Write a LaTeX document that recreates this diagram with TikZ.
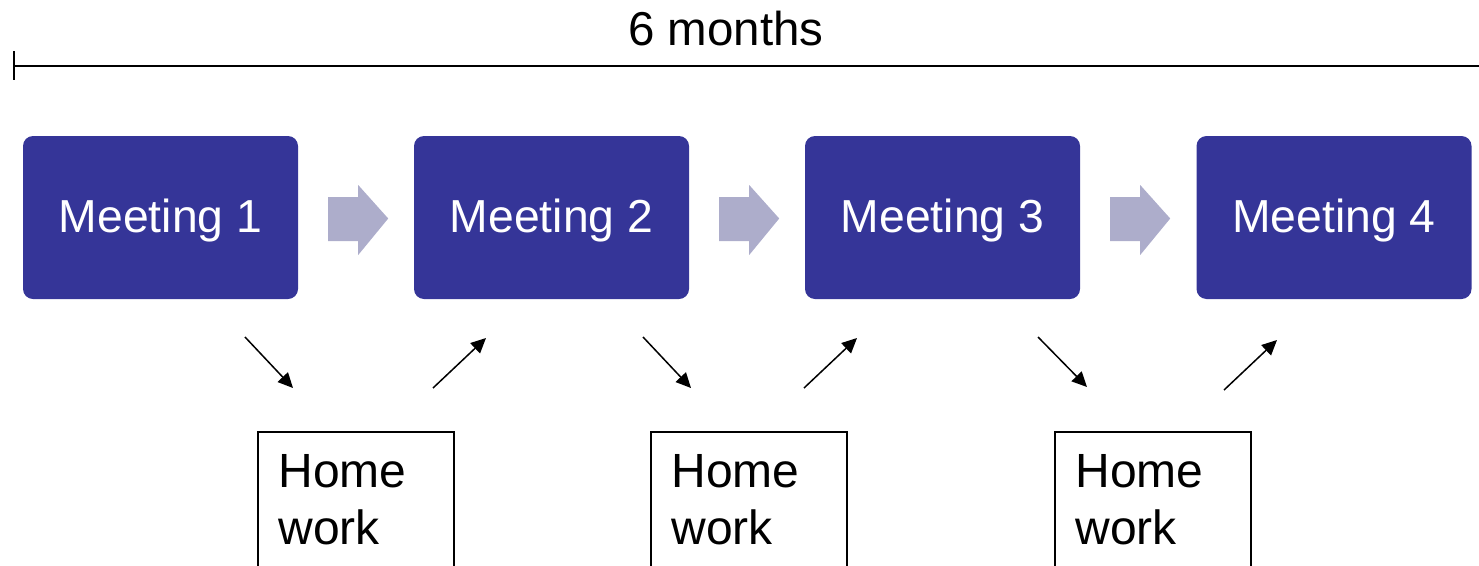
\documentclass[tikz,border=0pt]{standalone}
\usepackage{fontspec}
\setmainfont{Liberation Sans}
\usetikzlibrary{arrows.meta,calc}
\definecolor{meetblue}{RGB}{53,53,152}
\definecolor{flowgray}{RGB}{173,173,203}
\begin{document}
\begin{tikzpicture}[x=1pt,y=-1pt,
  meeting/.style={fill=meetblue, rounded corners=10pt, minimum width=275pt, minimum height=163pt,
    text=white, font=\fontsize{46.3}{56}\selectfont, text height=33.2pt, text depth=4pt, inner sep=0pt},
  homework/.style={draw=black, line width=1.8pt, anchor=north west, text width=155pt,
    inner xsep=20.5pt, inner ysep=22.6pt, align=left, font=\fontsize{48}{57}\selectfont},
  flow/.style={fill=flowgray},
  link/.style={line width=1.5pt, -{Triangle[length=15pt,width=14pt]}},
  timeline/.style={line width=1.6pt}]
\path[use as bounding box] (0,0) rectangle (1479,565);
\clip (0,0) rectangle (1479,565);

% timeline
\coordinate (tl) at (14,66);
\coordinate (tr) at (1479,66);
\coordinate (tt) at (14,51);
\coordinate (tb) at (14,80);
\draw[timeline] (tl) -- (tr);
\draw[timeline] (tt) -- (tb);
\node[anchor=base, font=\fontsize{47.5}{56}\selectfont, inner sep=0pt] (dur) at (726,45) {6 months};

% meetings
\node[meeting] (m1) at (160.5,217.5) {Meeting 1};
\node[meeting] (m2) at (551.5,217.5) {Meeting 2};
\node[meeting] (m3) at (942.5,217.5) {Meeting 3};
\node[meeting] (m4) at (1334,217.5) {Meeting 4};

% gray flow arrows
\foreach \a in {m1,m2,m3}{
  \begin{scope}[shift={(\a.east)}]
    \fill[flow] (30,-20.5) -- (60,-20.5) -- (60,-32.5) -- (90,1) -- (60,37.5) -- (60,23.5) -- (30,23.5) -- cycle;
  \end{scope}
}

% homework boxes
\node[homework] (hw1) at (257,431) {Home\\work};
\node[homework] (hw2) at (650,431) {Home\\work};
\node[homework] (hw3) at (1054,431) {Home\\work};

% small arrows
\coordinate (a1s) at (245,337); \coordinate (a1e) at (293,388);
\coordinate (b1s) at (433,388); \coordinate (b1e) at (486,338);
\coordinate (a2s) at (643,337); \coordinate (a2e) at (691,388);
\coordinate (b2s) at (804,388); \coordinate (b2e) at (857,338);
\coordinate (a3s) at (1038,337); \coordinate (a3e) at (1087,387);
\coordinate (b3s) at (1224,390); \coordinate (b3e) at (1277,340);
\draw[link] (a1s) -- (a1e);
\draw[link] (b1s) -- (b1e);
\draw[link] (a2s) -- (a2e);
\draw[link] (b2s) -- (b2e);
\draw[link] (a3s) -- (a3e);
\draw[link] (b3s) -- (b3e);
\end{tikzpicture}
\end{document}
